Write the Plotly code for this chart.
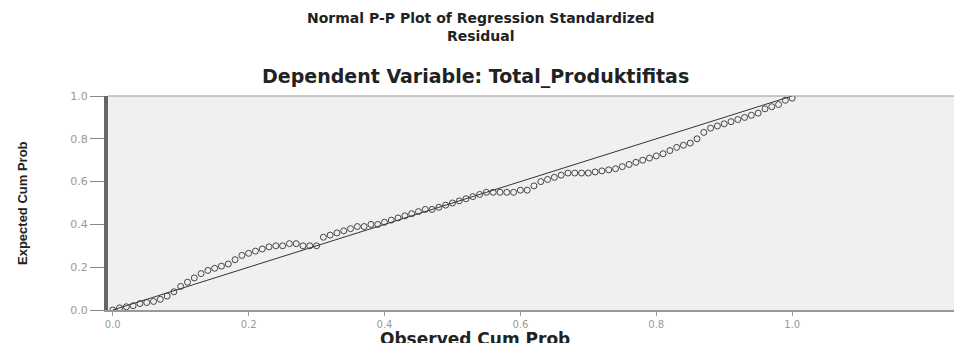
import plotly.graph_objects as go

# Observed cumulative probability (x) and expected cumulative probability (y)
observed = [0.00, 0.01, 0.02, 0.03, 0.04, 0.05, 0.06, 0.07, 0.08, 0.09,
            0.10, 0.11, 0.12, 0.13, 0.14, 0.15, 0.16, 0.17, 0.18, 0.19,
            0.20, 0.21, 0.22, 0.23, 0.24, 0.25, 0.26, 0.27, 0.28, 0.29,
            0.30, 0.31, 0.32, 0.33, 0.34, 0.35, 0.36, 0.37, 0.38, 0.39,
            0.40, 0.41, 0.42, 0.43, 0.44, 0.45, 0.46, 0.47, 0.48, 0.49,
            0.50, 0.51, 0.52, 0.53, 0.54, 0.55, 0.56, 0.57, 0.58, 0.59,
            0.60, 0.61, 0.62, 0.63, 0.64, 0.65, 0.66, 0.67, 0.68, 0.69,
            0.70, 0.71, 0.72, 0.73, 0.74, 0.75, 0.76, 0.77, 0.78, 0.79,
            0.80, 0.81, 0.82, 0.83, 0.84, 0.85, 0.86, 0.87, 0.88, 0.89,
            0.90, 0.91, 0.92, 0.93, 0.94, 0.95, 0.96, 0.97, 0.98, 0.99, 1.00]
expected = [0.000, 0.010, 0.015, 0.020, 0.030, 0.035, 0.040, 0.050, 0.065, 0.085,
            0.110, 0.130, 0.150, 0.170, 0.185, 0.195, 0.205, 0.215, 0.235, 0.255,
            0.265, 0.275, 0.285, 0.295, 0.300, 0.300, 0.310, 0.310, 0.300, 0.300,
            0.300, 0.340, 0.350, 0.360, 0.370, 0.380, 0.390, 0.390, 0.400, 0.400,
            0.410, 0.420, 0.430, 0.440, 0.450, 0.460, 0.470, 0.470, 0.480, 0.490,
            0.500, 0.510, 0.520, 0.530, 0.540, 0.550, 0.550, 0.550, 0.550, 0.550,
            0.560, 0.560, 0.580, 0.600, 0.610, 0.620, 0.630, 0.640, 0.640, 0.640,
            0.640, 0.645, 0.650, 0.655, 0.660, 0.670, 0.680, 0.690, 0.700, 0.710,
            0.720, 0.730, 0.745, 0.760, 0.770, 0.780, 0.800, 0.830, 0.850, 0.860,
            0.870, 0.880, 0.890, 0.900, 0.910, 0.920, 0.940, 0.950, 0.960, 0.980, 0.990]
diag = [0.0, 1.0]
tick_vals = [0.0, 0.2, 0.4, 0.6, 0.8, 1.0]
tick_text = ["0.0", "0.2", "0.4", "0.6", "0.8", "1.0"]

title_text = "Normal P-P Plot of Regression Standardized<br>Residual"
subtitle_text = "Dependent Variable: Total_Produktifitas"
x_title = "Observed Cum Prob"
y_title = "Expected Cum Prob"

fig = go.Figure()
fig.add_trace(go.Scatter(x=diag, y=diag, mode="lines",
                         line=dict(color="#333333", width=1), hoverinfo="skip"))
fig.add_trace(go.Scatter(x=observed, y=expected, mode="markers",
                         marker=dict(symbol="circle-open", size=6,
                                     color="#444444", line=dict(width=1))))

title_font = dict(family="DejaVu Sans", size=14, color="#222222")
subtitle_font = dict(family="DejaVu Sans", size=19, color="#222222")
x_title_font = dict(family="DejaVu Sans", size=17, color="#222222")

fig.update_layout(
    # page body adds an 8px offset, so the figure is 8px smaller than the window
    width=954, height=335,
    margin=dict(l=100, r=0, t=88, b=33),
    paper_bgcolor="white", plot_bgcolor="#f0f0f0",
    showlegend=False,
    xaxis=dict(range=[-0.007, 1.25], tickvals=tick_vals, ticktext=tick_text,
               showgrid=False, zeroline=False, showline=True,
               linecolor="#999999", linewidth=2, mirror=False,
               ticks="outside", ticklen=4, tickcolor="#999999",
               tickfont=dict(family="DejaVu Sans", size=10, color="#999999")),
    yaxis=dict(range=[0, 1.0], tickvals=tick_vals, ticktext=tick_text,
               showgrid=False, zeroline=False, showline=True,
               linecolor="#666666", linewidth=4,
               ticks="outside", ticklen=14, tickcolor="#888888",
               tickfont=dict(family="DejaVu Sans", size=11, color="#999999")),
    shapes=[dict(type="line", xref="paper", yref="paper", x0=0, x1=1, y0=1, y1=1,
                 line=dict(color="#999999", width=1))],
    annotations=[
        dict(text="<b>" + title_text + "</b>", xref="paper", yref="paper",
             x=0.436, y=1.0, yanchor="middle", yshift=69, showarrow=False,
             font=title_font),
        dict(text="<b>" + subtitle_text + "</b>", xref="paper", yref="paper",
             x=0.43, y=1.0, yanchor="middle", yshift=20, showarrow=False,
             font=subtitle_font),
        dict(text="<b>" + x_title + "</b>", xref="paper", yref="paper",
             x=0.43, y=0, yanchor="middle", yshift=-29, showarrow=False,
             font=x_title_font),
        dict(text="<b>" + y_title + "</b>", xref="paper", yref="paper",
             x=0, xanchor="center", xshift=-86, y=0.5, yshift=0, textangle=-90,
             showarrow=False,
             font=dict(family="Liberation Sans Narrow, Liberation Sans", size=13,
                       color="#222222")),
    ],
)

fig.write_html("out.html")
